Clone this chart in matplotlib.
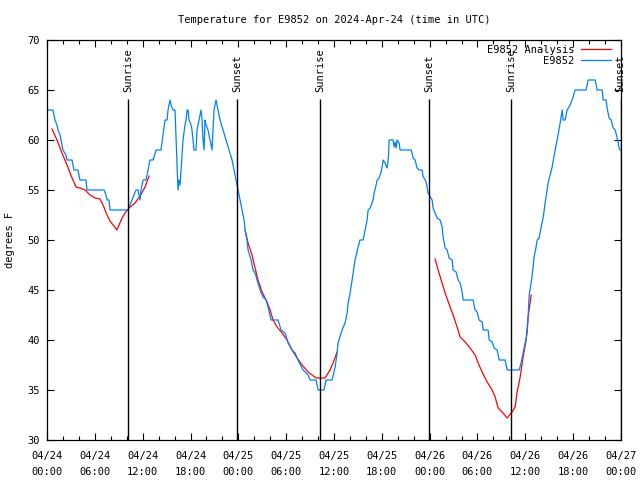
import numpy as np
import matplotlib
matplotlib.use("Agg")
import matplotlib.pyplot as plt

# hours since 2024-04-24 00:00 UTC
obs_hours = [0.13, 0.75, 1.0, 1.25, 1.38, 1.63, 1.76, 1.88, 2.0, 2.38, 2.5, 3.14, 3.26, 3.39, 3.89,
             4.0, 4.14, 4.89, 5.02, 7.15, 7.4, 7.53, 7.78, 7.9, 10.16, 10.4, 10.66, 10.9, 11.17,
             11.42, 11.67, 11.8, 12.05, 12.42, 12.67, 12.92, 13.3, 13.68, 14.3, 14.55, 14.8,
             15.06, 15.18, 15.43, 15.56, 15.81, 16.06, 16.19, 16.31, 16.44, 16.56, 16.69, 16.81,
             16.94, 17.06, 17.31, 17.44, 17.57, 17.69, 17.82, 18.07, 18.19, 18.32, 18.44, 18.69,
             18.82, 19.07, 19.32, 19.45, 19.57, 19.7, 19.82, 19.95, 20.2, 20.45, 20.58, 20.7,
             20.83, 20.95, 21.2, 21.33, 21.46, 21.71, 22.08, 22.46, 22.84, 23.21, 23.46, 23.71,
             23.96, 24.22, 24.47, 24.72, 24.84, 25.09, 25.22, 25.6, 25.85, 26.1, 26.35, 26.73,
             27.1, 27.48, 27.73, 28.1, 28.98, 29.36, 29.86, 30.24, 30.74, 31.12, 31.49, 32.12,
             32.75, 33.0, 33.75, 34.0, 34.75, 35.0, 35.76, 36.14, 36.39, 36.51, 37.01, 37.39,
             37.64, 37.77, 38.02, 38.27, 38.64, 39.02, 39.27, 39.65, 39.9, 40.15, 40.28, 40.53,
             40.9, 41.03, 41.28, 41.41, 41.66, 41.91, 42.03, 42.16, 42.41, 42.66, 42.79, 42.85,
             42.91, 43.41, 43.54, 43.66, 43.79, 43.91, 44.17, 44.29, 45.67, 45.8, 45.92, 46.17,
             46.42, 46.68, 47.05, 47.18, 47.3, 47.55, 47.68, 47.8, 48.31, 48.43, 48.93, 49.31,
             49.56, 49.69, 49.94, 50.19, 50.44, 50.82, 50.94, 51.32, 51.57, 51.82, 52.07, 52.2,
             53.45, 53.7, 53.95, 54.2, 54.58, 54.71, 55.33, 55.46, 55.83, 56.09, 56.46, 56.71,
             57.47, 57.72, 59.22, 59.47, 59.72, 59.97, 60.23, 60.35, 60.48, 60.73, 60.98, 61.1,
             61.35, 61.48, 61.73, 61.98, 62.23, 62.48, 62.86, 63.36, 63.74, 63.99, 64.37, 64.62,
             64.74, 64.99, 65.24, 65.62, 65.87, 66.25, 67.63, 67.88, 68.76, 69.01, 69.64, 69.76,
             70.14, 70.26, 70.51, 70.77, 71.02, 71.27, 71.52, 71.77, 71.9]
obs_temp = [63, 63, 62, 61.5, 61, 60.5, 60, 59.5, 59, 58.5, 58, 58, 57.5, 57, 57,
            56.5, 56, 56, 55, 55, 54.5, 54, 54, 53, 53, 53.5, 54, 54.5, 55,
            55, 54, 55, 56, 56, 57, 58, 58, 59, 59, 60.5, 62,
            62, 63, 64, 63.5, 63, 63, 60, 57.5, 55, 56, 55.5, 57,
            58.5, 60, 61.5, 62, 63, 63, 62, 61.5, 61, 60, 59, 59,
            61, 62, 63, 62, 60, 59, 62, 61.5, 61, 60, 59.5, 59,
            61, 63, 64, 63.5, 63, 62, 61, 60, 59, 58, 57, 56,
            55, 54, 53, 52, 51, 50, 49, 48, 47, 46.7, 46, 45,
            44.3, 44, 43.3, 42, 42, 41, 40.7, 39.7, 39, 38.7, 38, 37,
            36.5, 36, 36, 35, 35, 36, 36, 37.3, 38.7, 39.7, 41, 41.7,
            42.7, 43.7, 44.7, 46, 48, 49.3, 50, 50, 51, 52, 53, 53.2,
            54, 54.7, 55.5, 56, 56.2, 56.8, 57.3, 58, 57.7, 57.2, 58, 58.7,
            60, 60, 59.3, 59.8, 59.2, 60, 59.7, 59, 59, 58.7, 58.2, 58,
            57.2, 57, 57, 56.3, 56.2, 55.8, 55.3, 54.7, 54, 53.2, 52.2, 52,
            51.3, 50.3, 49.2, 49, 48.2, 48, 47, 46.8, 46, 45.7, 44.8, 44,
            44, 43, 42.8, 42, 41.8, 41, 41, 40, 39.8, 39.2, 39, 38,
            38, 37, 37, 37.7, 38.7, 39.7, 40.7, 42.3, 44.5, 45.7, 47.3, 48.3,
            49.3, 50, 50.2, 51.3, 52.2, 53.7, 55.7, 57.3, 59, 60, 61.7, 63,
            62, 62, 63, 63.5, 64, 65, 65, 66, 66, 65, 65, 64,
            64, 63.2, 62.2, 62, 61.2, 61, 60.2, 59.2, 59]

# analysis segments (one per night)
ana_hours = [
    [0.63, 1.25, 1.88, 2.51, 3.14, 3.64, 4.14, 4.77, 5.4, 6.02, 6.65, 7.03, 7.53, 7.9,
     8.28, 8.78, 9.41, 9.79, 10.29, 11.04, 11.67, 12.3, 12.8],
    [24.84, 25.22, 25.72, 26.1, 26.47, 26.98, 27.6, 27.98, 28.36, 28.86, 29.49, 30.11,
     30.74, 31.37, 32.0, 32.75, 33.75, 34.88, 35.51, 35.88, 36.39],
    [48.68, 49.06, 49.56, 49.94, 50.56, 50.94, 51.44, 51.82, 52.45, 53.07, 53.7, 54.08,
     54.58, 55.21, 55.83, 56.21, 56.59, 57.21, 57.72, 58.34, 58.72, 58.97, 59.35, 59.72,
     60.1, 60.35, 60.73],
]
ana_temp = [
    [61.1, 60, 58.7, 57.5, 56.2, 55.3, 55.2, 55, 54.5, 54.2, 54.1, 53.5, 52.5, 51.9,
     51.5, 51, 52.2, 52.7, 53.2, 53.7, 54.4, 55.3, 56.4],
    [51, 49.7, 48.5, 47.2, 46, 44.8, 43.8, 43, 42, 41.3, 40.7, 40,
     39, 38.2, 37.5, 36.8, 36.2, 36.2, 37, 37.7, 38.8],
    [48.1, 47, 45.7, 44.7, 43.3, 42.5, 41.3, 40.3, 39.8, 39.2, 38.5, 37.7,
     36.8, 35.8, 35, 34.3, 33.2, 32.7, 32.2, 32.8, 33.3, 34.8, 36.3, 38.3,
     40, 42.3, 44.5],
]

sun_hours = [10.16, 23.84, 34.25, 47.93, 58.22, 71.95]
sun_labels = ["Sunrise", "Sunset", "Sunrise", "Sunset", "Sunrise", "Sunset"]

xtick_labels = ["04/24\n00:00", "04/24\n06:00", "04/24\n12:00", "04/24\n18:00",
                "04/25\n00:00", "04/25\n06:00", "04/25\n12:00", "04/25\n18:00",
                "04/26\n00:00", "04/26\n06:00", "04/26\n12:00", "04/26\n18:00",
                "04/27\n00:00"]

plt.rcParams['font.family'] = 'DejaVu Sans Mono'
plt.rcParams['font.size'] = 7.5

fig = plt.figure(figsize=(6.4, 4.8), dpi=100)
ax = fig.add_axes([47/640, 40/480, 574/640, 400/480])

for i in range(len(ana_hours)):
    ax.plot(ana_hours[i], ana_temp[i], color='#ff0000', lw=0.9,
            label='E9852 Analysis' if i == 0 else None)
ax.plot(obs_hours, obs_temp, color='#0080ff', lw=0.9, label='E9852')

ax.vlines(sun_hours, 30, 64.1, color='black', lw=1.0)
for h, s in zip(sun_hours, sun_labels):
    ax.text(h, 64.8, s, rotation=90, ha='center', va='bottom', fontsize=7.5)

ax.set_xlim(0, 72)
ax.set_ylim(30, 70)
ax.set_xticks(np.arange(0, 73, 6))
ax.set_xticks(np.arange(0, 73, 2), minor=True)
ax.set_xticklabels(xtick_labels, linespacing=1.7)
ax.set_yticks(np.arange(30, 71, 5))
ax.tick_params(which='both', direction='in', top=True, right=True, width=0.8)
ax.tick_params(which='major', length=5)
ax.tick_params(which='minor', length=3)
ax.tick_params(axis='x', pad=8)
ax.tick_params(axis='y', pad=5)
for sp in ax.spines.values():
    sp.set_linewidth(0.9)

ax.set_ylabel('degrees F', labelpad=9)
ax.set_title('Temperature for E9852 on 2024-Apr-24 (time in UTC)', fontsize=7.5, pad=12)

ax.legend(loc='upper right', bbox_to_anchor=(0.993, 1.003), frameon=False,
          markerfirst=False, handlelength=2.9, borderaxespad=0.2, labelspacing=0.1,
          handletextpad=0.6, fontsize=7.5)

fig.savefig('out.png', dpi=100)
